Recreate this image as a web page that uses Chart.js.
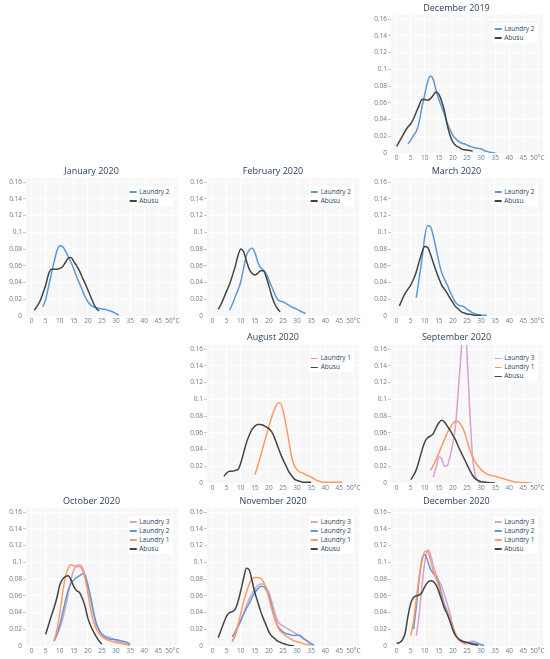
<!DOCTYPE html>
<html>
<head>
<meta charset="utf-8">
<script src="https://cdn.jsdelivr.net/npm/chart.js@4.4.1/dist/chart.umd.min.js"></script>
<style>
  body { margin: 0; background: #fff; overflow: hidden; }
  #page { position: relative; width: 550px; height: 659px; overflow: hidden; font-family: 'Open Sans', sans-serif; }
  #page canvas { position: absolute; }
  .title { position: absolute; font-size: 9px; color: #2a3f5f; white-space: nowrap; transform: translate(-50%, -50%); }
  .legend { position: absolute; background: #fff; padding: 1px 3px 1px 2px; font-size: 6.5px; line-height: 9px; color: #2a3f5f; white-space: nowrap; transform: translateX(-100%); }
  .legend .swatch { display: inline-block; width: 7px; height: 1.5px; vertical-align: middle; margin-right: 3px; }
</style>
</head>
<body>
<div id="page"></div>
<script>
const _ = null;

// temperature in °C, index of every series below
const temps = [0,1,2,3,4,5,6,7,8,9,10,11,12,13,14,15,16,17,18,19,20,21,22,23,24,25,26,27,28,29,30,31,32,33,34,35,36,37,38,39,40,41,42,43,44,45,46,47,48,49,50];
const xTicks = [0, 5, 10, 15, 20, 25, 30, 35, 40, 45, 50];
const yTicks = [0, 0.02, 0.04, 0.06, 0.08, 0.1, 0.12, 0.14, 0.16];

const dec2019Laundry2 = [_,_,_,_, 0.011,0.015,0.021,0.026,0.037,0.055,0.07,0.085,0.092,0.088,0.075,0.064,0.055,0.046,0.036,0.028,0.021,0.017,0.014,0.012,0.011,0.0095,0.008,0.007,0.006,0.0055,0.005,0.003,0.002,0.001,0.0005,0];
const dec2019Abusu = [0.008,0.014,0.02,0.026,0.031,0.035,0.041,0.049,0.057,0.064,0.064,0.063,0.065,0.069,0.073,0.07,0.062,0.05,0.033,0.021,0.013,0.009,0.007,0.005,0.004,0.0035,0.003,0.0025];

const jan2020Laundry2 = [_,_,_,_, 0.011,0.02,0.035,0.05,0.065,0.078,0.084,0.083,0.078,0.071,0.064,0.056,0.047,0.039,0.031,0.023,0.017,0.013,0.011,0.01,0.009,0.0085,0.008,0.007,0.006,0.0045,0.003,0.001];
const jan2020Abusu = [_, 0.007,0.012,0.018,0.027,0.037,0.05,0.056,0.056,0.056,0.057,0.059,0.064,0.069,0.07,0.065,0.06,0.054,0.046,0.039,0.031,0.023,0.015,0.009,0.006];

const feb2020Laundry2 = [_,_,_,_,_,_, 0.007,0.014,0.023,0.031,0.041,0.057,0.072,0.079,0.081,0.076,0.065,0.058,0.055,0.051,0.043,0.035,0.027,0.02,0.018,0.017,0.015,0.013,0.011,0.0095,0.008,0.006,0.0045,0.003];
const feb2020Abusu = [_,_, 0.008,0.014,0.022,0.03,0.038,0.048,0.059,0.072,0.08,0.077,0.066,0.056,0.051,0.049,0.051,0.054,0.054,0.047,0.036,0.024,0.015,0.009,0.005];

const mar2020Laundry2 = [_,_,_,_,_,_,_, 0.022,0.045,0.068,0.095,0.108,0.107,0.096,0.081,0.065,0.052,0.044,0.037,0.029,0.022,0.016,0.013,0.012,0.011,0.008,0.006,0.004,0.0025,0.0015,0.001,0.001,0.001];
const mar2020Abusu = [_, 0.012,0.02,0.027,0.032,0.037,0.044,0.053,0.065,0.076,0.083,0.082,0.074,0.064,0.054,0.045,0.037,0.032,0.027,0.021,0.016,0.011,0.008,0.005,0.0035,0.0025,0.002,0.0015,0.001,0.001,0.001];

const aug2020Laundry1 = [_,_,_,_,_,_,_,_,_,_,_,_,_,_,_, 0.01,0.02,0.032,0.044,0.056,0.068,0.079,0.088,0.095,0.096,0.087,0.07,0.052,0.032,0.021,0.016,0.013,0.012,0.01,0.0085,0.007,0.005,0.003,0.002,0.001,0.001,0.001,0.001,0.001,0.001,0.001,0.001];
const aug2020Abusu = [_,_,_,_, 0.008,0.012,0.014,0.014,0.015,0.016,0.024,0.036,0.048,0.057,0.064,0.068,0.07,0.07,0.069,0.067,0.065,0.061,0.054,0.045,0.036,0.028,0.021,0.014,0.009,0.005,0.003,0.002,0.001,0.001,0.001,0.001];

const sep2020Laundry3 = [_,_,_,_,_,_,_,_,_,_,_,_,_, 0.007,0.018,0.031,0.029,0.02,0.021,0.032,0.048,0.071,0.115,0.16,0.21,0.155,0.085,0.03,0.008,0.002,0];
const sep2020Laundry1 = [_,_,_,_,_,_,_,_,_,_,_,_, 0.015,0.021,0.028,0.036,0.044,0.052,0.06,0.066,0.071,0.074,0.073,0.069,0.062,0.051,0.04,0.031,0.025,0.02,0.016,0.013,0.011,0.0095,0.0085,0.008,0.007,0.006,0.005,0.004,0.003,0.002,0.0013,0.0008,0.0005,0.0003,0.0002,0.0001,0];
const sep2020Abusu = [_,_,_,_,_, 0.004,0.009,0.016,0.027,0.039,0.049,0.054,0.056,0.059,0.066,0.072,0.075,0.073,0.068,0.063,0.057,0.051,0.043,0.036,0.029,0.022,0.015,0.009,0.005,0.003,0.0015,0.001,0.0007,0.0004,0.0002,0];

const oct2020Laundry3 = [_,_,_,_,_,_,_,_, 0.006,0.013,0.021,0.032,0.046,0.062,0.079,0.091,0.096,0.097,0.094,0.085,0.071,0.055,0.038,0.025,0.018,0.014,0.012,0.011,0.01,0.008,0.006,0.005,0.004,0.003,0.002,0.001];
const oct2020Laundry2 = [_,_,_,_,_,_,_,_, 0.006,0.015,0.025,0.039,0.054,0.067,0.075,0.079,0.082,0.084,0.086,0.084,0.073,0.058,0.041,0.027,0.019,0.014,0.011,0.009,0.008,0.008,0.0075,0.007,0.006,0.005,0.004,0.002];
const oct2020Laundry1 = [_,_,_,_,_,_,_,_, 0.007,0.019,0.039,0.063,0.083,0.093,0.097,0.096,0.095,0.095,0.091,0.08,0.063,0.043,0.029,0.02,0.015,0.011,0.009,0.007,0.006,0.005,0.004,0.0035,0.003,0.002,0.0015,0.001];
const oct2020Abusu = [_,_,_,_,_, 0.014,0.025,0.036,0.046,0.058,0.073,0.08,0.083,0.084,0.079,0.071,0.066,0.064,0.057,0.047,0.033,0.024,0.017,0.011,0.006,0.002];

const nov2020Laundry3 = [_,_,_,_,_,_,_, 0.005,0.012,0.022,0.03,0.039,0.048,0.056,0.063,0.068,0.072,0.074,0.074,0.07,0.064,0.053,0.041,0.031,0.026,0.024,0.022,0.02,0.018,0.016,0.014,0.012,0.009,0.007,0.005,0.003,0.001];
const nov2020Laundry2 = [_,_,_,_,_,_,_, 0.011,0.017,0.024,0.031,0.038,0.045,0.051,0.058,0.064,0.068,0.071,0.071,0.067,0.06,0.047,0.034,0.025,0.02,0.017,0.015,0.014,0.013,0.0125,0.013,0.0125,0.01,0.0075,0.005,0.0025,0.001];
const nov2020Laundry1 = [_,_,_,_,_,_,_, 0.006,0.014,0.025,0.039,0.053,0.064,0.074,0.08,0.082,0.082,0.081,0.077,0.069,0.057,0.044,0.033,0.024,0.018,0.015,0.012,0.01,0.008,0.006,0.005,0.004,0.003,0.002,0.0015,0.001];
const nov2020Abusu = [_,_, 0.01,0.019,0.028,0.036,0.04,0.041,0.044,0.053,0.066,0.081,0.093,0.091,0.078,0.064,0.053,0.042,0.033,0.025,0.017,0.012,0.009,0.006,0.0045,0.003,0.002,0.001,0.0005,0];

const dec2020Laundry3 = [_,_,_,_,_,_,_, 0.012,0.038,0.072,0.1,0.115,0.109,0.097,0.086,0.078,0.071,0.061,0.05,0.038,0.024,0.014,0.008,0.005,0.004,0.004,0.005,0.006,0.005,0.003,0.0015,0.001];
const dec2020Laundry2 = [_,_,_,_,_,_, 0.02,0.047,0.08,0.104,0.109,0.102,0.092,0.087,0.082,0.075,0.062,0.049,0.041,0.031,0.021,0.013,0.009,0.007,0.005,0.0045,0.004,0.0035,0.003,0.0025,0.0015,0.001];
const dec2020Laundry1 = [_,_,_,_,_, 0.012,0.03,0.056,0.083,0.101,0.113,0.113,0.103,0.09,0.081,0.071,0.058,0.046,0.04,0.031,0.022,0.014,0.009,0.005,0.003,0.002];
const dec2020Abusu = [0.003,0.004,0.007,0.015,0.035,0.051,0.058,0.06,0.061,0.064,0.071,0.076,0.078,0.077,0.073,0.065,0.055,0.045,0.038,0.029,0.019,0.012,0.008,0.006,0.005,0.004,0.003,0.002,0.0015,0.001];

const seriesColors = {
  'Laundry 1': '#ff9966',
  'Laundry 2': '#5b9bd5',
  'Laundry 3': '#d9a0d0',
  'Abusu': '#444444'
};

const panels = [
  { title: 'December 2019', row: 0, col: 2, series: [['Laundry 2', dec2019Laundry2], ['Abusu', dec2019Abusu]] },
  { title: 'January 2020', row: 1, col: 0, series: [['Laundry 2', jan2020Laundry2], ['Abusu', jan2020Abusu]] },
  { title: 'February 2020', row: 1, col: 1, series: [['Laundry 2', feb2020Laundry2], ['Abusu', feb2020Abusu]] },
  { title: 'March 2020', row: 1, col: 2, series: [['Laundry 2', mar2020Laundry2], ['Abusu', mar2020Abusu]] },
  { title: 'August 2020', row: 2, col: 1, series: [['Laundry 1', aug2020Laundry1], ['Abusu', aug2020Abusu]] },
  { title: 'September 2020', row: 2, col: 2, series: [['Laundry 3', sep2020Laundry3], ['Laundry 1', sep2020Laundry1], ['Abusu', sep2020Abusu]] },
  { title: 'October 2020', row: 3, col: 0, series: [['Laundry 3', oct2020Laundry3], ['Laundry 2', oct2020Laundry2], ['Laundry 1', oct2020Laundry1], ['Abusu', oct2020Abusu]] },
  { title: 'November 2020', row: 3, col: 1, series: [['Laundry 3', nov2020Laundry3], ['Laundry 2', nov2020Laundry2], ['Laundry 1', nov2020Laundry1], ['Abusu', nov2020Abusu]] },
  { title: 'December 2020', row: 3, col: 2, series: [['Laundry 3', dec2020Laundry3], ['Laundry 2', dec2020Laundry2], ['Laundry 1', dec2020Laundry1], ['Abusu', dec2020Abusu]] }
];

// plot area geometry
const colLeft = [25.5, 207, 390.5];
const rowTop = [15, 178, 344.5, 508];
const PLOT_W = 152, PLOT_H = 138;
const Y_AXIS_W = 26, X_AXIS_H = 16, PAD_TOP = 6, PAD_RIGHT = 8;

Chart.defaults.font.family = "'Open Sans', sans-serif";

const plotBg = {
  id: 'plotBg',
  beforeDraw(chart) {
    const { ctx, chartArea: a } = chart;
    ctx.save();
    ctx.fillStyle = '#f7f7f7';
    ctx.fillRect(a.left, a.top, a.width, a.height);
    ctx.restore();
  }
};

const page = document.getElementById('page');

panels.forEach(panel => {
  const plotLeft = colLeft[panel.col];
  const plotTop = rowTop[panel.row];

  const canvas = document.createElement('canvas');
  canvas.width = Y_AXIS_W + PLOT_W + PAD_RIGHT;
  canvas.height = PAD_TOP + PLOT_H + X_AXIS_H;
  canvas.style.left = (plotLeft - Y_AXIS_W) + 'px';
  canvas.style.top = (plotTop - PAD_TOP) + 'px';
  page.appendChild(canvas);

  const title = document.createElement('div');
  title.className = 'title';
  title.textContent = panel.title;
  title.style.left = (plotLeft + PLOT_W / 2 - 10) + 'px';
  title.style.top = (plotTop - 8.5) + 'px';
  page.appendChild(title);

  const legend = document.createElement('div');
  legend.className = 'legend';
  legend.style.left = (plotLeft + PLOT_W - 5) + 'px';
  legend.style.top = (plotTop + 7.5) + 'px';
  panel.series.forEach(([name]) => {
    const item = document.createElement('div');
    item.innerHTML = `<span class="swatch" style="background:${seriesColors[name]}"></span>${name}`;
    legend.appendChild(item);
  });
  page.appendChild(legend);

  const n = panel.series.length;
  const datasets = panel.series.map(([name, values], i) => ({
    label: name,
    data: values.map((v, k) => ({ x: temps[k], y: v })).filter(p => p.y !== null),
    borderColor: seriesColors[name],
    borderWidth: 1.5,
    pointRadius: 0,
    fill: false,
    cubicInterpolationMode: 'monotone',
    order: n - i
  }));

  new Chart(canvas.getContext('2d'), {
    type: 'line',
    data: { datasets },
    options: {
      responsive: false,
      animation: false,
      layout: { padding: { top: PAD_TOP, right: PAD_RIGHT, left: 0, bottom: 0 } },
      plugins: { legend: { display: false }, tooltip: { enabled: false } },
      scales: {
        x: {
          type: 'linear',
          min: -2,
          max: 52,
          afterBuildTicks: axis => { axis.ticks = xTicks.map(v => ({ value: v })); },
          afterFit: axis => { axis.height = X_AXIS_H; },
          grid: { color: '#ffffff', lineWidth: 1, drawTicks: false },
          border: { display: false },
          ticks: {
            padding: 1.5,
            autoSkip: false,
            maxRotation: 0,
            color: '#6a7a90',
            font: { size: 6.5 },
            callback: v => v === 50 ? '50°C' : String(v)
          }
        },
        y: {
          type: 'linear',
          min: 0,
          max: 0.165,
          afterBuildTicks: axis => { axis.ticks = yTicks.map(v => ({ value: v })); },
          afterFit: axis => { axis.width = Y_AXIS_W; },
          grid: {
            color: '#ffffff',
            lineWidth: 1,
            drawTicks: true,
            tickLength: 3,
            tickColor: c => (c.tick && c.tick.value === 0) ? 'rgba(0,0,0,0)' : '#c4c8cf'
          },
          border: { display: false },
          ticks: {
            padding: 1,
            color: '#6a7a90',
            font: { size: 6.5 },
            callback: v => String(+v.toFixed(2))
          }
        }
      }
    },
    plugins: [plotBg]
  });
});
</script>
</body>
</html>
